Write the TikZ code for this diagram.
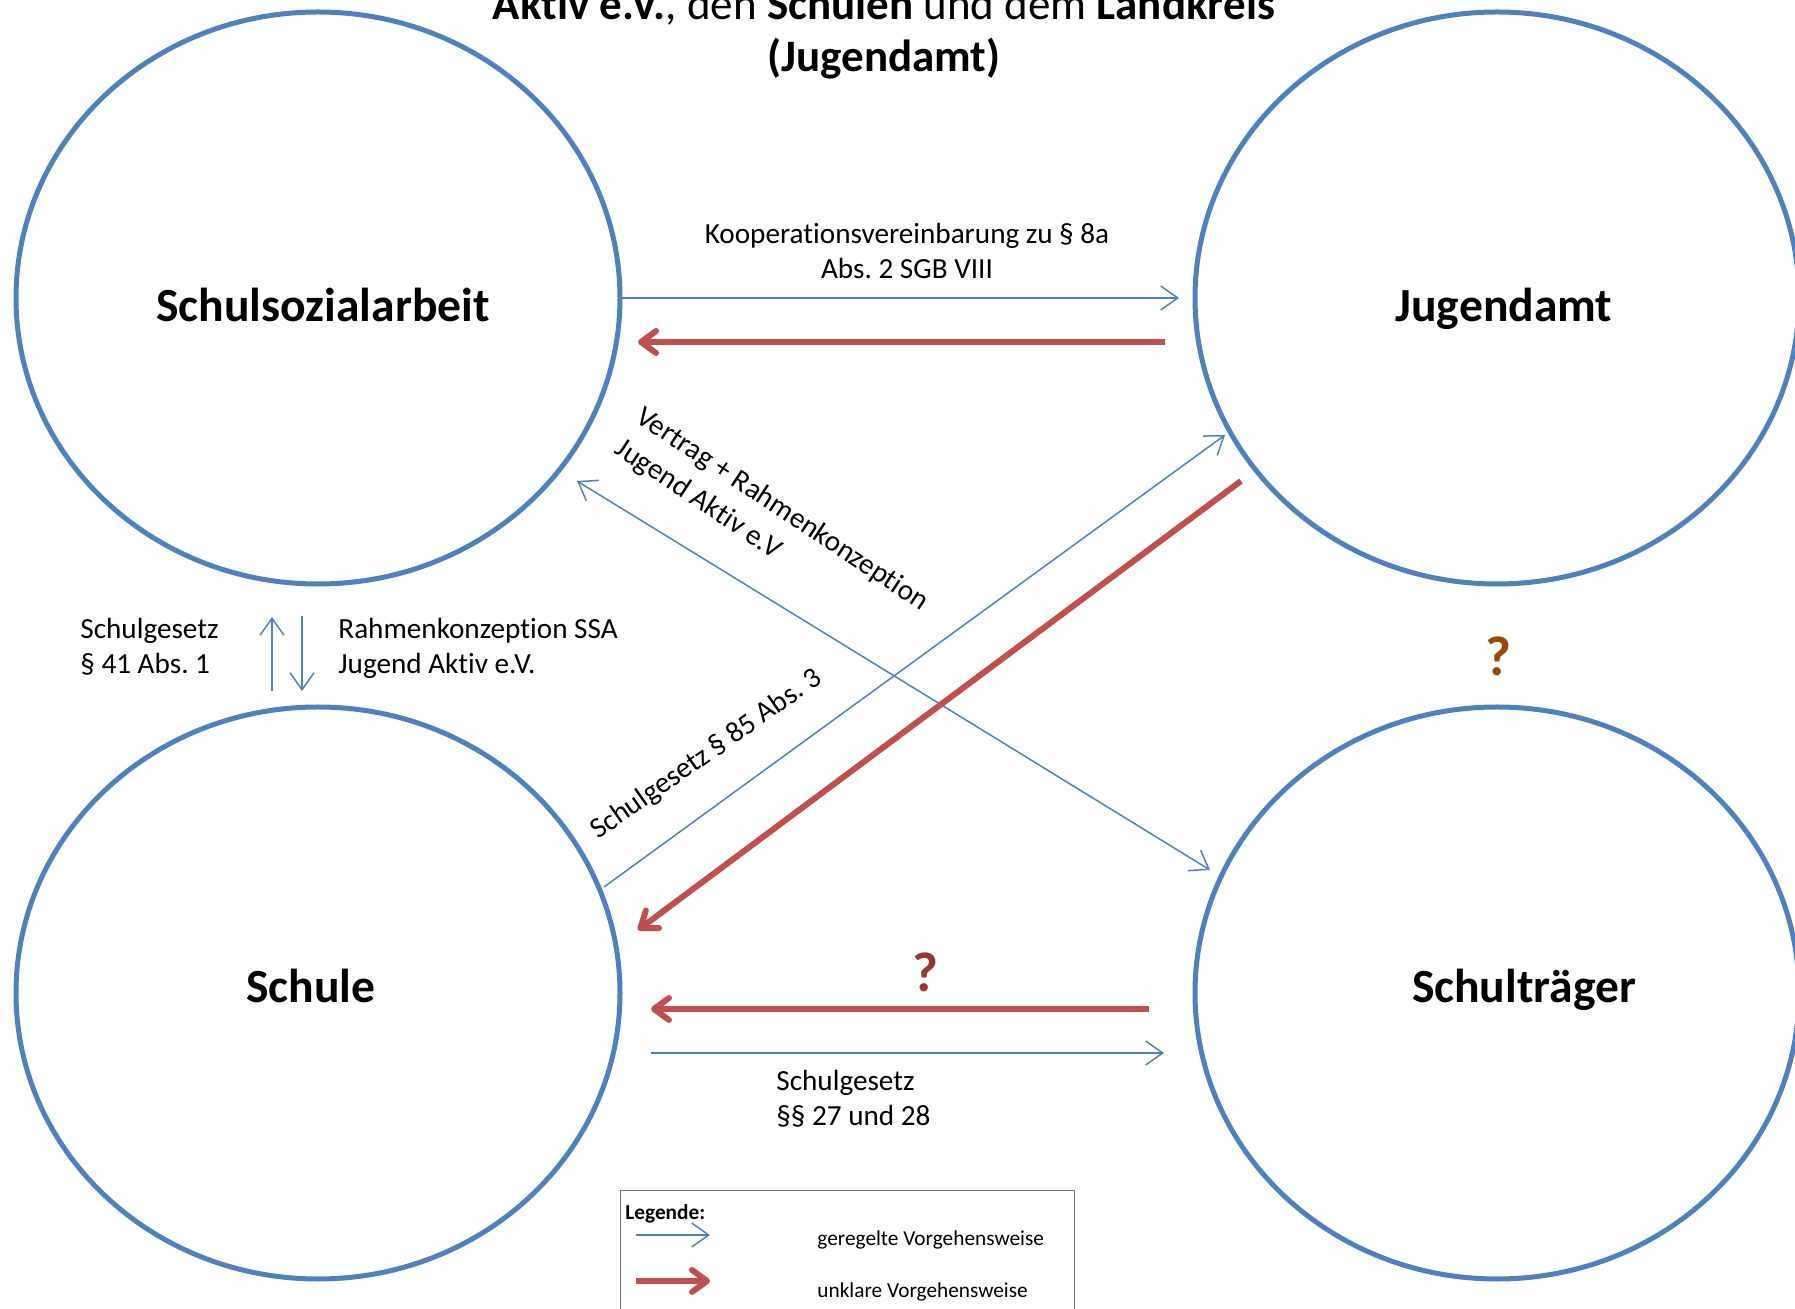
\documentclass[tikz,border=0pt]{standalone}
\usepackage{fontspec}
\setmainfont[Ligatures=NoCommon]{Carlito}
\usetikzlibrary{arrows.meta,shapes.geometric}
\definecolor{cblue}{RGB}{79,129,189}
\definecolor{cred}{RGB}{192,80,77}
\definecolor{qdark}{RGB}{149,55,53}
\definecolor{qbrown}{RGB}{152,72,7}
\frenchspacing
\begin{document}
\begin{tikzpicture}[x=0.5pt,y=-0.5pt,
  circ/.style={ellipse, draw=cblue, line width=2.5pt, minimum width=302pt, minimum height=286pt, inner sep=0pt, outer sep=0pt},
  big/.style={font=\fontsize{23.8}{28}\selectfont\bfseries, inner sep=0pt, anchor=base},
  small/.style={font=\fontsize{14.6}{17.5}\selectfont, inner sep=0pt},
  legtxt/.style={font=\fontsize{10.65}{13}\selectfont, inner sep=0pt, anchor=base west},
  qmark/.style={font=\fontsize{28}{32}\selectfont\bfseries, inner sep=0pt, anchor=base},
  bluetip/.tip={Straight Barb[length=8.5pt,width=12pt]},
  redtip/.tip={Straight Barb[length=7.5pt,width=11pt,round]},
  bluearrow/.style={draw=cblue, line width=0.75pt, -bluetip},
  bluedouble/.style={draw=cblue, line width=0.75pt, bluetip-bluetip},
  redarrow/.style={draw=cred, line width=3pt, -redtip},
]
\useasboundingbox (0,0) rectangle (1795,1309);
\clip (0,0) rectangle (1795,1309);

% circles
\node[circ] (ssa) at (318,298) {};
\node[circ] (ja) at (1497,298) {};
\node[circ] (sch) at (318,993) {};
\node[circ] (st) at (1497,993) {};

% title
\node[font=\fontsize{22.5}{27}\selectfont, inner sep=0pt, anchor=base] (t1) at (884,20) {\textbf{Aktiv e.V.}, den \textbf{Schulen} und dem \textbf{Landkreis}};
\node[font=\fontsize{22.5}{27}\selectfont\bfseries, inner sep=0pt, anchor=base] (t2) at (884,72) {(Jugendamt)};

% circle labels
\node[big] (ssaL) at (323,322) {Schulsozialarbeit};
\node[big] (jaL) at (1504,322) {Jugendamt};
\node[big] (schL) at (311,1002) {Schule};
\node[big] (stL) at (1524,1002) {Schulträger};

% connectors
\draw[bluearrow] (ssa.east) -- ([xshift=-8pt]ja.west);
\draw[redarrow] ([shift={(-30,44)}]ja.west) -- ([shift={(18,44)}]ssa.east);
\draw[bluedouble] ([shift={(-43,183)}]ssa.east) -- ([shift={(15,-123)}]st.west);
\draw[bluearrow] ([shift={(-16,-106)}]sch.east) -- ([shift={(30,137)}]ja.west);
\draw[redarrow] ([shift={(46,183)}]ja.west) -- ([shift={(18,-63)}]sch.east);
\draw[redarrow] ([shift={(-46,16)}]st.west) -- ([shift={(31,16)}]sch.east);
\draw[bluearrow] ([shift={(31,60)}]sch.east) -- ([shift={(-31,60)}]st.west);
\draw[bluearrow] ([shift={(-46,-16)}]sch.north) -- ([shift={(-46,33)}]ssa.south);
\draw[bluearrow] ([shift={(-16,32)}]ssa.south) -- ([shift={(-16,-16)}]sch.north);

% connector labels
\node[small, anchor=base] (koop) at (907,244) {\begin{tabular}[t]{@{}c@{}}Kooperationsvereinbarung zu § 8a\\Abs. 2 SGB VIII\end{tabular}};
\node[small, anchor=base west] (sg41) at (80,639) {\begin{tabular}[t]{@{}l@{}}Schulgesetz\\§ 41 Abs. 1\end{tabular}};
\node[small, anchor=base west] (rk) at (338,639) {\begin{tabular}[t]{@{}l@{}}Rahmenkonzeption SSA\\Jugend Aktiv e.V.\end{tabular}};
\node[small, anchor=base west] (sg27) at (776,1090) {\begin{tabular}[t]{@{}l@{}}Schulgesetz\\§§ 27 und 28\end{tabular}};
\node[small, font=\fontsize{14.6}{19}\selectfont, anchor=base west, rotate=-33.5] (vertrag) at (634,421) {\begin{tabular}[t]{@{}l@{}}Vertrag + Rahmenkonzeption\\Jugend Aktiv e.V\end{tabular}};
\node[small, anchor=base west, rotate=35] (sg85) at (598,840) {Schulgesetz § 85 Abs. 3};

% question marks
\node[qmark, text=qbrown] (q1) at (1498,676) {?};
\node[qmark, text=qdark] (q2) at (925,992) {?};

% legend
\node[draw=black!55, line width=0.6pt, anchor=north west, minimum width=227pt, minimum height=80pt, inner sep=0pt] (leg) at (620,1190) {};
\node[legtxt, font=\fontsize{10.65}{13}\selectfont\bfseries] (legT) at (625,1219) {Legende:};
\coordinate (lb1) at (636,1235);
\coordinate (lb2) at (710,1235);
\draw[bluearrow] (lb1) -- (lb2);
\node[legtxt] (legB) at (817,1245) {geregelte Vorgehensweise};
\coordinate (lr1) at (636,1281);
\coordinate (lr2) at (710,1281);
\draw[redarrow] (lr1) -- (lr2);
\node[legtxt] (legR) at (817,1297) {unklare Vorgehensweise};
\end{tikzpicture}
\end{document}
